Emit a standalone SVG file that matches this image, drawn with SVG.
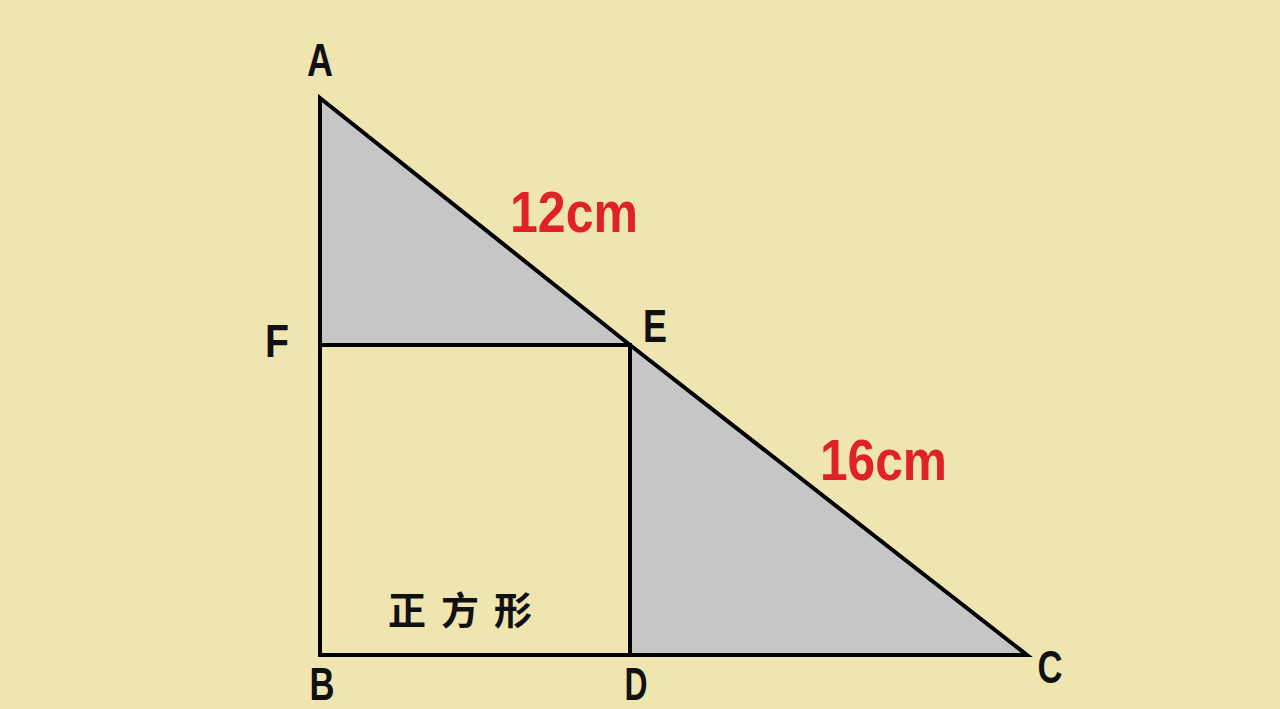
<svg xmlns="http://www.w3.org/2000/svg" width="1280" height="709" viewBox="0 0 1280 709">
<style>
.lbl{font-family:"Liberation Sans",Arial,sans-serif;font-weight:bold;font-size:46px;fill:#111;text-anchor:middle}
.len{font-family:"Liberation Sans",Arial,sans-serif;font-weight:bold;font-size:58px;fill:#e02228}
.edge{stroke:#000;stroke-width:4;fill:none;stroke-linejoin:miter;stroke-linecap:square}
.shade{fill:#c6c6c6;stroke:none}
</style>
<rect width="1280" height="709" fill="#efe5b0"/>
<g id="shading">
<polygon class="shade" points="320,98 630,345 320,345"/>
<polygon class="shade" points="630,345 1027,655 630,655"/>
</g>
<g id="connectors">
<polygon class="edge" points="320,98 630,345 1027,655 320,655"/>
<polyline class="edge" points="320,345 630,345 630,655"/>
</g>
<g id="A"><text class="lbl" x="320" y="76" textLength="26" lengthAdjust="spacingAndGlyphs">A</text></g>
<g id="F"><text class="lbl" x="277" y="357" textLength="24" lengthAdjust="spacingAndGlyphs">F</text></g>
<g id="E"><text class="lbl" x="655" y="342" textLength="24" lengthAdjust="spacingAndGlyphs">E</text></g>
<g id="B"><text class="lbl" x="322" y="700" font-size="43" textLength="25" lengthAdjust="spacingAndGlyphs">B</text></g>
<g id="D"><text class="lbl" x="636" y="700" font-size="43" textLength="23" lengthAdjust="spacingAndGlyphs">D</text></g>
<g id="C"><text class="lbl" x="1050" y="683" textLength="25" lengthAdjust="spacingAndGlyphs">C</text></g>
<g id="len12"><text class="len" x="510" y="232" textLength="128" lengthAdjust="spacingAndGlyphs">12cm</text></g>
<g id="len16"><text class="len" x="820" y="480" textLength="127" lengthAdjust="spacingAndGlyphs">16cm</text></g>
<g id="square"><text x="388" y="624" font-family="'Noto Sans CJK SC',sans-serif" font-size="38" font-weight="bold" fill="#111" textLength="144" lengthAdjust="spacing">正方形</text></g>
</svg>
